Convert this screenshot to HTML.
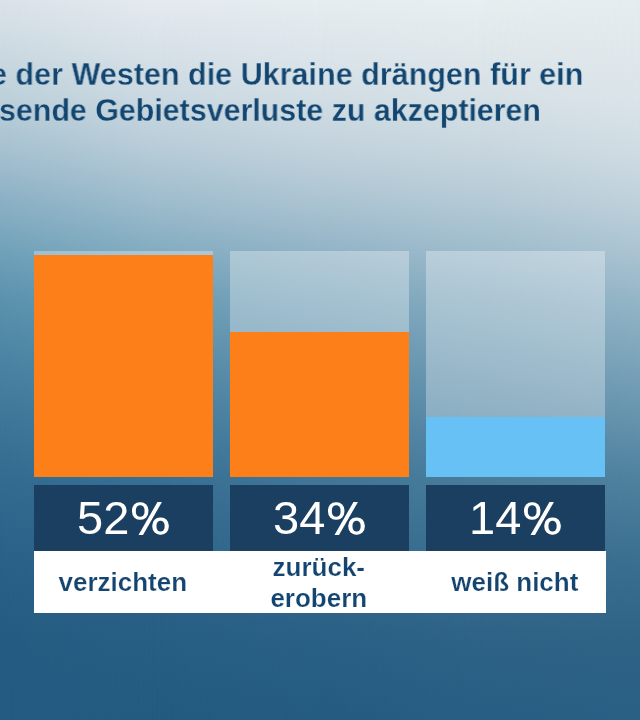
<!DOCTYPE html>
<html>
<head>
<meta charset="utf-8">
<style>
html,body{margin:0;padding:0;}
body{width:640px;height:720px;overflow:hidden;position:relative;font-family:"Liberation Sans",sans-serif;background:#7ea6bb;}
.bg{position:absolute;left:0;top:0;width:640px;height:720px;}
.bg0{background:linear-gradient(to bottom,#dbe3e9 0px,#cddbe2 45px,#bcd0da 100px,#a6c1d0 150px,#8cb1c5 200px,#71a2ba 250px,#5b92ae 300px,#4a84a3 360px,#3e7699 420px,#336b90 480px,#2a6188 560px,#245c82 640px,#245b82 720px);}
.bg1{background:linear-gradient(to bottom,#e5eaef 0px,#d9e2e9 45px,#cad8e1 100px,#b7ccd8 150px,#9fbdcd 200px,#85adc1 250px,#6c9db5 300px,#578ca9 360px,#467d9e 420px,#396f93 480px,#2e658a 560px,#275e83 640px,#235a7f 720px);-webkit-mask-image:linear-gradient(to right,transparent 0px,#000 160px);mask-image:linear-gradient(to right,transparent 0px,#000 160px);}
.bg2{background:linear-gradient(to bottom,#e6edf0 0px,#dde6eb 45px,#d1dde4 100px,#c1d2dc 150px,#acc4d2 200px,#93b4c7 250px,#7aa5bb 300px,#6494af 360px,#5084a3 420px,#417697 480px,#34698d 560px,#2a6085 640px,#255b80 720px);-webkit-mask-image:linear-gradient(to right,transparent 160px,#000 320px);mask-image:linear-gradient(to right,transparent 160px,#000 320px);}
.bg3{background:linear-gradient(to bottom,#e8eef1 0px,#e0e8eb 45px,#d5e0e6 100px,#c7d6de 150px,#b4cad6 200px,#9ebccc 250px,#87acc0 300px,#709cb4 360px,#5b8ba8 420px,#487c9b 480px,#396e90 560px,#2e6387 640px,#285e83 720px);-webkit-mask-image:linear-gradient(to right,transparent 320px,#000 480px);mask-image:linear-gradient(to right,transparent 320px,#000 480px);}
.bg4{background:linear-gradient(to bottom,#e5ecef 0px,#e0e8ec 45px,#dae3e8 100px,#cfdce3 150px,#bfd1db 200px,#abc4d2 250px,#94b5c7 300px,#7ca4ba 360px,#6593ad 420px,#4e819e 480px,#3b6f90 560px,#2f6386 640px,#2a6084 720px);-webkit-mask-image:linear-gradient(to right,transparent 480px,#000 640px);mask-image:linear-gradient(to right,transparent 480px,#000 640px);}
.t{position:absolute;white-space:nowrap;font-weight:bold;color:#124670;font-size:31px;line-height:35px;transform-origin:0 0;transform:scaleX(0.985);}
.track{position:absolute;top:251px;height:226px;width:179.6px;background:rgba(255,255,255,0.31);}
.fill{position:absolute;left:0;right:0;bottom:0;}
.pct{position:absolute;top:485px;height:66.4px;width:179.6px;background:#1b3f60;color:#fff;font-size:47px;text-align:center;}
.labbar{position:absolute;top:551.4px;height:61.5px;left:33.9px;width:571.9px;background:#fff;}
.lab{position:absolute;top:551px;height:62px;width:179.6px;color:#134570;font-weight:bold;font-size:26px;text-align:center;-webkit-text-stroke:0.2px #fff;}
.pct span,.lab span{position:absolute;left:0;right:0;white-space:nowrap;}
.t,.pct span,.lab span{will-change:transform;}
.lab span{left:-0.9px;right:0.9px;}
.pct .num{position:absolute;left:0;top:4.5px;width:95.3px;text-align:right;white-space:nowrap;}
.pct .pc{position:absolute;left:97.9px;top:16.9px;}
</style>
</head>
<body>
<div class="bg bg0"></div><div class="bg bg1"></div><div class="bg bg2"></div><div class="bg bg3"></div><div class="bg bg4"></div>
<div class="t" style="left:-10.4px;top:57.4px;-webkit-text-stroke:0.3px #d5e0e6;">e der Westen die Ukraine drängen für ein</div>
<div class="t" style="left:-1.2px;top:92.5px;transform:scaleX(0.98);-webkit-text-stroke:0.3px #c8d7e0;">sende Gebietsverluste zu akzeptieren</div>

<div class="track" style="left:33.9px;"><div class="fill" style="top:4px;background:#fc7f1a;"></div></div>
<div class="track" style="left:229.9px;"><div class="fill" style="top:81px;background:#fc7f1a;"></div></div>
<div class="track" style="left:425.9px;"><div class="fill" style="top:166px;background:#68c1f4;"></div></div>

<div class="pct" style="left:33.9px;"><span class="num">52</span><svg class="pc" width="38" height="34" viewBox="0 0 38 34"><rect x="0" y="0.25" width="16.4" height="17.5" rx="7.6" ry="8" fill="#fff"/><rect x="3.9" y="3.25" width="8.6" height="11.5" rx="4.2" ry="4.6" fill="#1b3f60"/><rect x="20.3" y="15.5" width="16.5" height="17.2" rx="7.6" ry="8" fill="#fff"/><rect x="24.5" y="18.75" width="8.1" height="10.7" rx="4" ry="4.4" fill="#1b3f60"/><path fill="#fff" d="M25.45,0 L29.95,0 L11,32.9 L6.5,32.9 Z"/></svg></div>
<div class="pct" style="left:229.9px;"><span class="num">34</span><svg class="pc" width="38" height="34" viewBox="0 0 38 34"><rect x="0" y="0.25" width="16.4" height="17.5" rx="7.6" ry="8" fill="#fff"/><rect x="3.9" y="3.25" width="8.6" height="11.5" rx="4.2" ry="4.6" fill="#1b3f60"/><rect x="20.3" y="15.5" width="16.5" height="17.2" rx="7.6" ry="8" fill="#fff"/><rect x="24.5" y="18.75" width="8.1" height="10.7" rx="4" ry="4.4" fill="#1b3f60"/><path fill="#fff" d="M25.45,0 L29.95,0 L11,32.9 L6.5,32.9 Z"/></svg></div>
<div class="pct" style="left:425.9px;"><span class="num">14</span><svg class="pc" width="38" height="34" viewBox="0 0 38 34"><rect x="0" y="0.25" width="16.4" height="17.5" rx="7.6" ry="8" fill="#fff"/><rect x="3.9" y="3.25" width="8.6" height="11.5" rx="4.2" ry="4.6" fill="#1b3f60"/><rect x="20.3" y="15.5" width="16.5" height="17.2" rx="7.6" ry="8" fill="#fff"/><rect x="24.5" y="18.75" width="8.1" height="10.7" rx="4" ry="4.4" fill="#1b3f60"/><path fill="#fff" d="M25.45,0 L29.95,0 L11,32.9 L6.5,32.9 Z"/></svg></div>

<div class="labbar"></div>
<div class="lab" style="left:33.9px;"><span style="top:16.3px;">verzichten</span></div>
<div class="lab" style="left:229.9px;"><span style="top:0.7px;line-height:31px;">zurück-<br>erobern</span></div>
<div class="lab" style="left:425.9px;"><span style="top:16.3px;">weiß nicht</span></div>
</body>
</html>
